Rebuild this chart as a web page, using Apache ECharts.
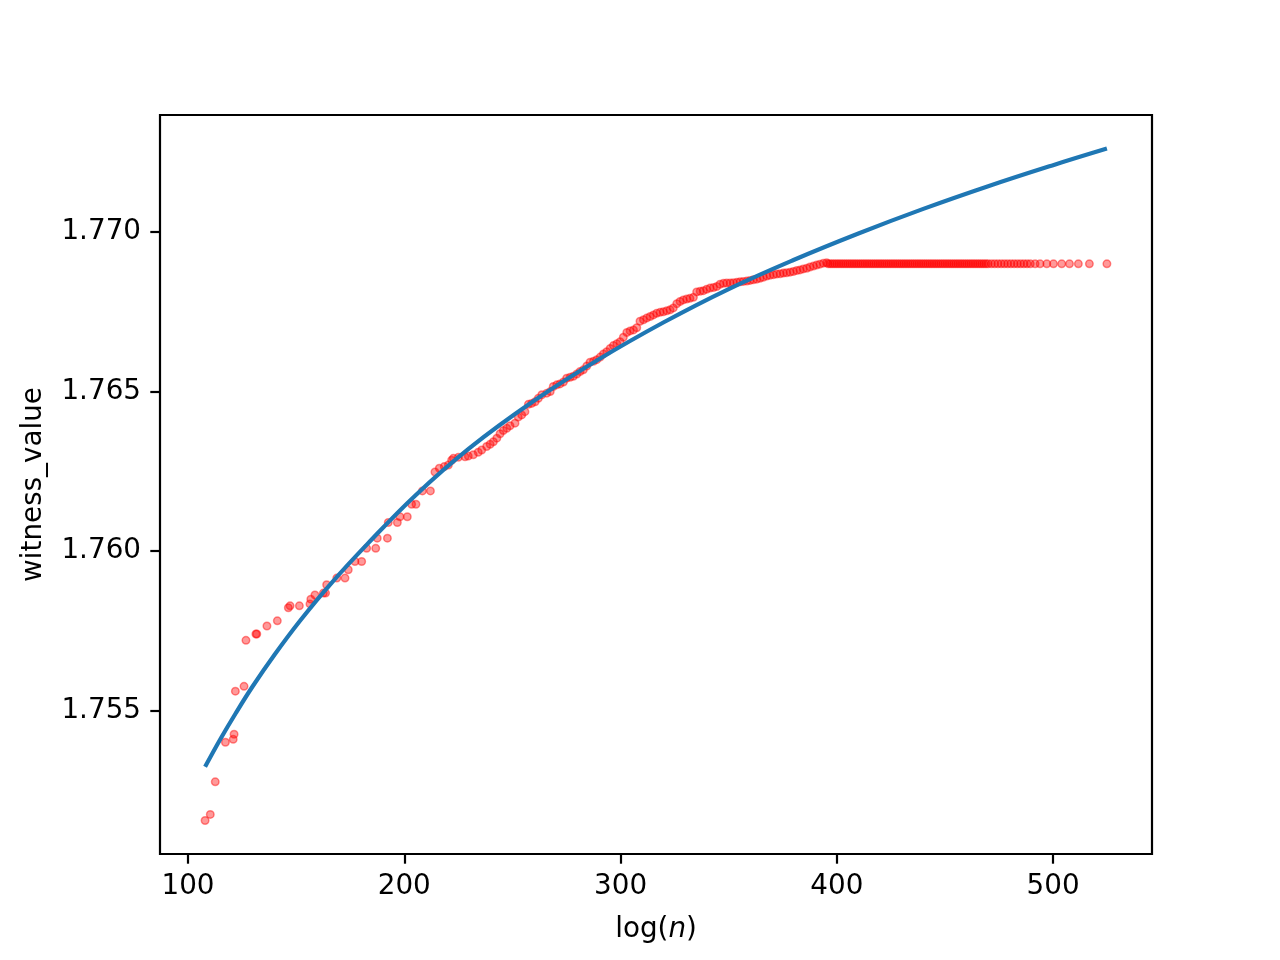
<!DOCTYPE html>
<html><head><meta charset="utf-8">
<script src="https://cdn.jsdelivr.net/npm/echarts@6/dist/echarts.min.js"></script>
<style>html,body{margin:0;padding:0;background:#fff}#c{width:1280px;height:960px}</style>
</head><body><div id="c"></div>
<script>
// Axis ticks
const xTicks = [100, 200, 300, 400, 500];
const yTicks = [1.755, 1.760, 1.765, 1.770];

// Scatter points (witness values), early sparse part
const earlyX = [107.9,110.3,112.6,117.3,120.9,121.3,121.9,125.9,126.8,131.4,131.8,136.5,141.3,146.4,147.2,151.5,156.4,156.8,158.7,162.6,163.6,164.1,168.8,172.6,174.1,177.2,180.3,182.6,186.8,187.5,192.2,192.6,196.8,198.0,201.4,203.4,205.4,208.4,212.1,214.2,216.2,218.5,220.4,221.9,222.7,225.0,228.1,229.6,231.9,234.2,235.8,238.1,239.7,241.2,242.8,244.3,245.8,247.4,248.9,251.2,252.7,254.3,255.8,257.4,258.9,260.5,262.0,263.6,265.9];
const earlyY = [1.75157,1.75176,1.75278,1.75402,1.75411,1.75427,1.75562,1.75577,1.75721,1.75741,1.75741,1.75766,1.75782,1.75823,1.75829,1.75829,1.75835,1.75850,1.75863,1.75869,1.75869,1.75895,1.75916,1.75916,1.75942,1.75968,1.75968,1.76009,1.76009,1.76041,1.76041,1.76090,1.76090,1.76108,1.76108,1.76147,1.76147,1.76189,1.76189,1.76248,1.76260,1.76265,1.76270,1.76285,1.76291,1.76294,1.76296,1.76298,1.76302,1.76310,1.76317,1.76328,1.76335,1.76343,1.76354,1.76368,1.76378,1.76385,1.76393,1.76401,1.76420,1.76427,1.76437,1.76460,1.76463,1.76468,1.76479,1.76490,1.76495];

// Dense middle part
const midX = [267.5,268.9,270.5,272.0,273.6,275.1,276.7,278.2,279.8,281.3,282.8,284.4,285.9,287.5,289.0,290.6,292.1,293.6,295.2,296.7,298.3,299.8,301.3,302.9,304.4,306.0,307.5,309.0,310.6,312.1,313.7,315.2,316.7,318.3,319.8,321.4,322.9,324.4,326.0,327.5,329.0,330.6,332.1,333.7,335.2,336.8,338.3,339.8,341.4,343.0,344.5,346.0,347.6,349.1,350.7,352.2,353.8,355.3,356.8,358.4,359.9,361.4,363.0,364.5,366.0,367.6,369.1,370.7,372.2,373.8,375.3,376.8,378.4,379.9,381.5,383.0,384.5,386.1,387.6,389.2,390.7,392.2,393.8,395.3];
const midY = [1.76500,1.76516,1.76521,1.76524,1.76530,1.76542,1.76545,1.76548,1.76555,1.76563,1.76568,1.76580,1.76592,1.76595,1.76600,1.76608,1.76618,1.76625,1.76635,1.76644,1.76650,1.76656,1.76670,1.76685,1.76690,1.76693,1.76700,1.76720,1.76725,1.76730,1.76735,1.76740,1.76745,1.76748,1.76750,1.76753,1.76756,1.76762,1.76775,1.76782,1.76787,1.76790,1.76792,1.76795,1.76812,1.76814,1.76816,1.76820,1.76824,1.76826,1.76829,1.76836,1.76839,1.76840,1.76840,1.76841,1.76842,1.76844,1.76845,1.76846,1.76848,1.76850,1.76852,1.76855,1.76858,1.76862,1.76864,1.76866,1.76868,1.76869,1.76871,1.76872,1.76874,1.76876,1.76879,1.76881,1.76884,1.76886,1.76890,1.76893,1.76896,1.76899,1.76902,1.76903];

// Plateau part
const plateauX = [396,397,398,399,400,401,402,403,404,405,406,407,408,409,410,411,412,413,414,415,416,417,418,419,420,421,422,423,424,425,426,427,428,429,430,431,432,433,434,435,436,437,438,439,440,441,442,443,444,445,446,447,448,449,450,451,452,453,454,455,456,457,458,459,460,461,462,463,464,465,466,467,468,469,470,471.5,473,474.5,476,477.5,479,480.5,482,483.5,485,486.5,488,489.5,491.7,494.0,497.1,500.2,504.0,507.6,511.7,516.8,524.9];
const plateauY = [
1.769,1.769,1.769,1.769,1.769,1.769,1.769,1.769,1.769,1.769,
1.769,1.769,1.769,1.769,1.769,1.769,1.769,1.769,1.769,1.769,
1.769,1.769,1.769,1.769,1.769,1.769,1.769,1.769,1.769,1.769,
1.769,1.769,1.769,1.769,1.769,1.769,1.769,1.769,1.769,1.769,
1.769,1.769,1.769,1.769,1.769,1.769,1.769,1.769,1.769,1.769,
1.769,1.769,1.769,1.769,1.769,1.769,1.769,1.769,1.769,1.769,
1.769,1.769,1.769,1.769,1.769,1.769,1.769,1.769,1.769,1.769,
1.769,1.769,1.769,1.769,1.769,1.769,1.769,1.769,1.769,1.769,
1.769,1.769,1.769,1.769,1.769,1.769,1.769,1.769,1.769,1.769,
1.769,1.769,1.769,1.769,1.769,1.769,1.769];

// Fitted curve (blue)
const fitX = [107.9,115,122,130,140,152,166,183,205,230,260,290,320,350,380,410,440,470,500,524.9];
const fitY = [1.75325,1.75412,1.75492,1.75578,1.75676,1.75784,1.75898,1.76023,1.76174,1.76322,1.76471,1.76601,1.76717,1.76821,1.76912,1.76995,1.77072,1.77143,1.77209,1.77261];

const xMin = 87.05, xMax = 545.75;
const yMin = 1.75052, yMax = 1.77366;

const allX = earlyX.concat(midX, plateauX);
const allY = earlyY.concat(midY, plateauY);
const scatterData = allX.map((x, i) => [x, allY[i]]);
const fitData = fitX.map((x, i) => [x, fitY[i]]);

const FONT = 'DejaVu Sans';
const FS = 27.8;

const chart = echarts.init(document.getElementById('c'), null, {renderer: 'canvas'});
chart.setOption({
  animation: false,
  backgroundColor: '#ffffff',
  grid: {left: 160, top: 115, width: 992, height: 739, show: true,
         borderColor: '#000', borderWidth: 2.2, backgroundColor: 'transparent', containLabel: false},
  xAxis: {
    type: 'value', min: xMin, max: xMax,
    axisLine: {show: false},
    axisTick: {show: true, customValues: xTicks, length: 9.7, lineStyle: {color: '#000', width: 2.2}},
    axisLabel: {customValues: xTicks, margin: 19, color: '#000', fontFamily: FONT, fontSize: FS},
    splitLine: {show: false},
    name: '{a|log(}{b|n}{a|)}', nameLocation: 'middle', nameGap: 62,
    nameTextStyle: {color: '#000', fontFamily: FONT, fontSize: FS,
      rich: {a: {color: '#000', fontFamily: FONT, fontSize: FS},
             b: {color: '#000', fontFamily: FONT, fontSize: FS, fontStyle: 'italic'}}}
  },
  yAxis: {
    type: 'value', min: yMin, max: yMax,
    axisLine: {show: false},
    axisTick: {show: true, customValues: yTicks, length: 9.7, lineStyle: {color: '#000', width: 2.2}},
    axisLabel: {customValues: yTicks, margin: 19, color: '#000', fontFamily: FONT, fontSize: FS,
                formatter: v => v.toFixed(3)},
    splitLine: {show: false},
    name: 'witness_value', nameLocation: 'middle', nameGap: 112, nameRotate: 90,
    nameTextStyle: {color: '#000', fontFamily: FONT, fontSize: FS}
  },
  series: [
    {type: 'scatter', data: scatterData, symbol: 'circle', symbolSize: 7.5, z: 2,
     itemStyle: {color: 'rgba(255,0,0,0.5)', borderColor: 'rgba(255,0,0,0.55)', borderWidth: 1.5},
     emphasis: {disabled: true}},
    {type: 'line', data: fitData, smooth: 0.4, showSymbol: false, z: 3,
     lineStyle: {color: '#1f77b4', width: 4.2}, emphasis: {disabled: true}}
  ]
});
</script></body></html>
